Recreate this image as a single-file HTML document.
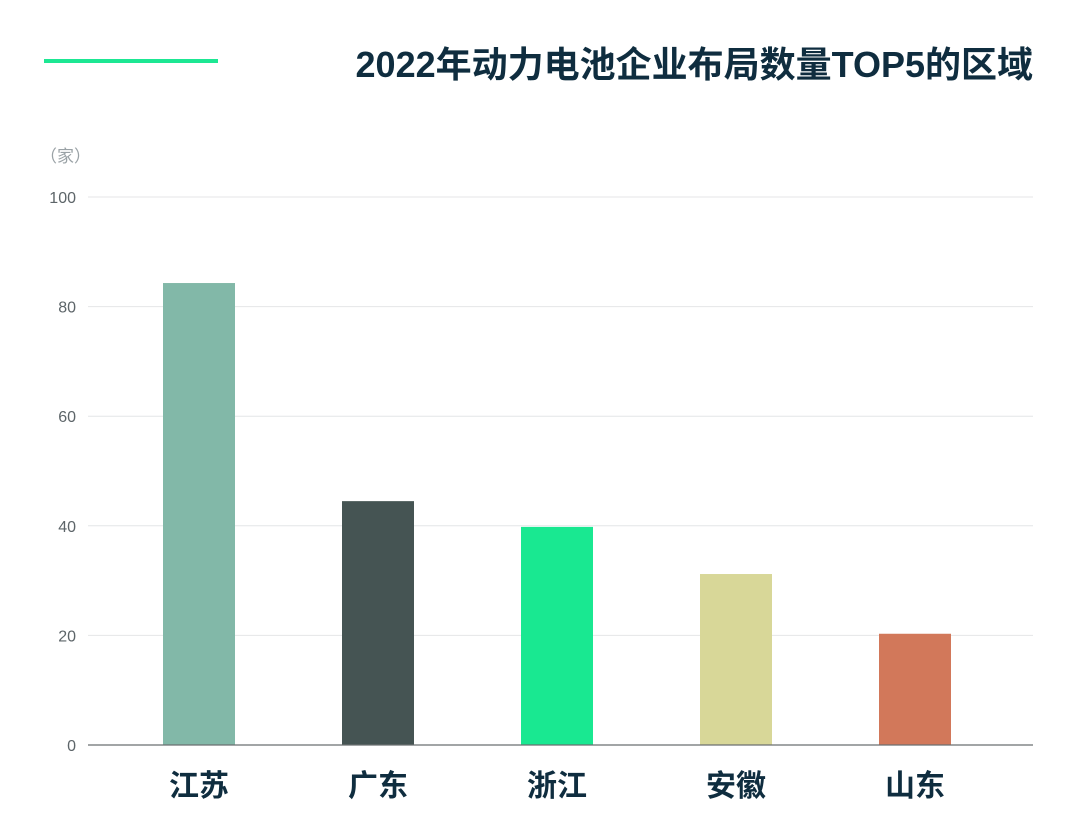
<!DOCTYPE html>
<html><head><meta charset="utf-8"><style>
body{margin:0;background:#fff;width:1080px;height:817px;overflow:hidden;font-family:"Liberation Sans","Noto Sans CJK SC",sans-serif}
</style></head><body>
<svg width="1080" height="817" style="position:absolute;left:0;top:0">
<line x1="44" y1="61" x2="218" y2="61" stroke="#1de793" stroke-width="4"/>
<text x="1033" y="77" text-anchor="end" font-size="36" font-weight="bold" fill="#0f2d3f" font-family="Liberation Sans,Noto Sans CJK SC,sans-serif">2022年动力电池企业布局数量TOP5的区域</text>
<text x="40" y="162" font-size="17" fill="#9aa2a6" font-family="Liberation Sans,Noto Sans CJK SC,sans-serif">（家）</text>
<g id="grid"></g><g id="bars"></g><g id="xl"></g>
<line x1="88" y1="745" x2="1033" y2="745" stroke="#6b6f70" stroke-width="1.2"/>
</svg>
<script>
const categories=["江苏","广东","浙江","安徽","山东"];
const values=[84.3,44.5,39.8,31.2,20.3];
const colors=["#82b8a8","#455453","#19e891","#d8d798","#d2785a"];
const ticks=[0,20,40,60,80,100];
const NS="http://www.w3.org/2000/svg";
const y=v=>745-v*5.48;
const x=i=>109.5+179*i;
const g=document.getElementById("grid"),b=document.getElementById("bars"),xl=document.getElementById("xl");
ticks.forEach(t=>{
 if(t>0){const l=document.createElementNS(NS,"line");
 
 
 l.setAttribute("x1",88);l.setAttribute("x2",1033);l.setAttribute("y1",y(t));l.setAttribute("y2",y(t));l.setAttribute("stroke","#e4e6e7");g.appendChild(l);}
 const tx=document.createElementNS(NS,"text");
 
 
 tx.setAttribute("x",76);tx.setAttribute("y",y(t)+6);tx.setAttribute("text-anchor","end");tx.setAttribute("font-size","16");tx.setAttribute("fill","#5d6569");tx.textContent=t;g.appendChild(tx);
});
categories.forEach((c,i)=>{
 const r=document.createElementNS(NS,"rect");
 
 
 const cx=x(i)+89.5;
 r.setAttribute("x",cx-36);r.setAttribute("width",72);r.setAttribute("y",y(values[i]));r.setAttribute("height",745-y(values[i]));r.setAttribute("fill",colors[i]);b.appendChild(r);
 const t=document.createElementNS(NS,"text");
 
 
 t.setAttribute("x",cx);t.setAttribute("y",796);t.setAttribute("text-anchor","middle");t.setAttribute("font-size","30");t.setAttribute("font-weight","bold");t.setAttribute("fill","#0f2d3f");t.setAttribute("font-family","Noto Sans CJK SC,sans-serif");t.textContent=c;xl.appendChild(t);
});
</script>
</body></html>
